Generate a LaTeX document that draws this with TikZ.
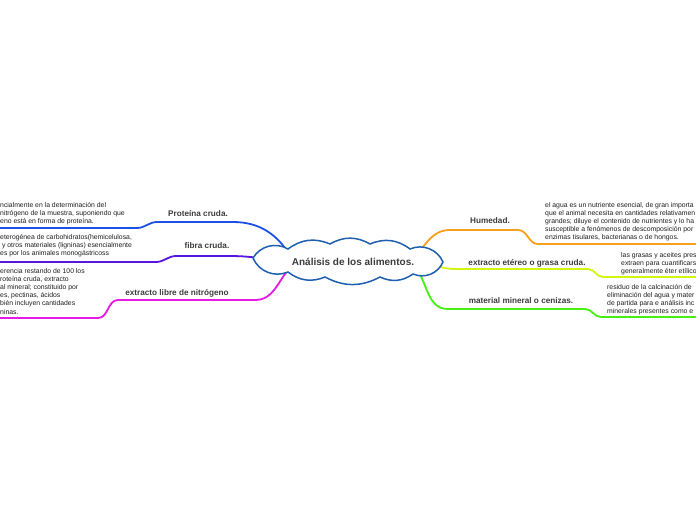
\documentclass[tikz,border=0pt]{standalone}
\usepackage{fontspec}
\setmainfont{Liberation Sans}
\usetikzlibrary{calc,backgrounds}

\definecolor{cloudblue}{HTML}{1E5FAF}
\definecolor{labelgray}{HTML}{3C3C3C}
\definecolor{notegray}{HTML}{1E1E1E}
\definecolor{protblue}{HTML}{1F50E6}
\definecolor{fibpurple}{HTML}{5A14E0}
\definecolor{elnmagenta}{HTML}{E619E6}
\definecolor{humorange}{HTML}{F5A01E}
\definecolor{eterlime}{HTML}{D2F514}
\definecolor{mingreen}{HTML}{46F014}

\begin{document}
\begin{tikzpicture}[x=1pt,y=1pt,
  topic/.style={font=\fontsize{8.2}{9}\selectfont\bfseries,text=labelgray,inner sep=0pt},
  note/.style={font=\fontsize{6.85}{8.2}\selectfont,text=notegray,align=left,inner sep=0pt},
  branch/.style={line width=1.8pt,line cap=round}]
  \useasboundingbox (0,0) rectangle (696,-520);
  \clip (0,0) rectangle (696,-520);

  % central cloud
  \coordinate (C0) at (353,-262);
  \filldraw[draw=cloudblue,fill=white,line width=1.5pt]
    ($(C0)+(-100,4)$) to[bend left=45] ($(C0)+(-65,13)$)
    to[bend left=30] ($(C0)+(-23,18)$) to[bend left=30] ($(C0)+(17,18)$)
    to[bend left=30] ($(C0)+(57,13)$) to[bend left=45] ($(C0)+(90,0)$)
    to[bend left=45] ($(C0)+(60,-12)$) to[bend left=30] ($(C0)+(27,-15)$)
    to[bend left=28] ($(C0)+(-28,-15)$) to[bend left=30] ($(C0)+(-65,-10)$)
    to[bend left=45] cycle;
  \node (N0) [inner sep=0pt,font=\fontsize{10}{12}\selectfont\bfseries,text=labelgray]
    at (C0) {Análisis de los alimentos.};

  \node (N1) [topic] at (198,-214) {Proteína cruda.};
  \node (N2) [topic] at (207,-246) {fibra cruda.};
  \node (N3) [topic] at (177,-293) {extracto libre de nitrógeno};
  \node (N4) [topic] at (490,-221) {Humedad.};
  \node (N5) [topic] at (527,-263) {extracto etéreo o grasa cruda.};
  \node (N6) [topic] at (521,-301) {material mineral o cenizas.};

  \node (D1) [note,anchor=north west] at (0,-202)
    {ncialmente en la determinación del\\nitrógeno de la muestra, suponiendo que\\eno está en forma de proteína.};
  \node (D2) [note,anchor=north west] at (0,-234)
    {eterogénea de carbohidratos(hemicelulosa,\\\ y otros materiales (ligninas) esencialmente\\es por los animales monogástricoss};
  \node (D3) [note,anchor=north west] at (0,-268)
    {erencia restando de 100 los\\roteína cruda, extracto\\al mineral; constituido por\\es, pectinas, ácidos\\bién incluyen cantidades\\ninas.};
  \node (D4) [note,anchor=north west] at (545,-202)
    {el agua es un nutriente esencial, de gran importa\\que el animal necesita en cantidades relativamen\\grandes; diluye el contenido de nutrientes y lo ha\\susceptible a fenómenos de descomposición por\\enzimas tisulares, bacterianas o de hongos.};
  \node (D5) [note,anchor=north west] at (621,-252)
    {las grasas y aceites pres\\extraen para cuantificars\\generalmente éter etílico};
  \node (D6) [note,anchor=north west] at (607,-284)
    {residuo de la calcinación de\\eliminación del agua y mater\\de partida para e análisis inc\\minerales presentes como e};

  % bends and loose ends of the branches
  \coordinate (P1) at (233,-222);
  \coordinate (Q1) at (157,-222);
  \coordinate (R1) at (137,-228);
  \coordinate (E1) at (0,-228);
  \coordinate (P2) at (230,-256);
  \coordinate (Q2) at (176,-256);
  \coordinate (R2) at (156,-262);
  \coordinate (E2) at (0,-262);
  \coordinate (P3) at (255,-300);
  \coordinate (Q3) at (118,-300);
  \coordinate (R3) at (98,-318);
  \coordinate (E3) at (0,-318);
  \coordinate (P4) at (450,-230);
  \coordinate (Q4) at (518,-230);
  \coordinate (R4) at (538,-244);
  \coordinate (E4) at (696,-244);
  \coordinate (P5) at (455,-269);
  \coordinate (Q5) at (588,-269);
  \coordinate (R5) at (603,-277);
  \coordinate (E5) at (696,-277);
  \coordinate (P6) at (448,-309);
  \coordinate (Q6) at (585,-309);
  \coordinate (R6) at (601,-317);
  \coordinate (E6) at (696,-317);

  \begin{scope}[on background layer]
    \draw[branch,protblue] (N0.north west) to[out=120,in=0] (P1) -- (Q1) to[out=180,in=0] (R1) -- (E1);
    \draw[branch,fibpurple] (N0.west) to[out=175,in=0] (P2) -- (Q2) to[out=180,in=0] (R2) -- (E2);
    \draw[branch,elnmagenta] (N0.south west) to[out=225,in=0] (P3) -- (Q3) to[out=180,in=0] (R3) -- (E3);
    \draw[branch,humorange] (N0.north east) to[out=50,in=180] (P4) -- (Q4) to[out=0,in=180] (R4) -- (E4);
    \draw[branch,eterlime] (N0.east) to[out=0,in=180] (P5) -- (Q5) to[out=0,in=180] (R5) -- (E5);
    \draw[branch,mingreen] (N0.south east) to[out=-50,in=180] (P6) -- (Q6) to[out=0,in=180] (R6) -- (E6);
  \end{scope}
\end{tikzpicture}
\end{document}
